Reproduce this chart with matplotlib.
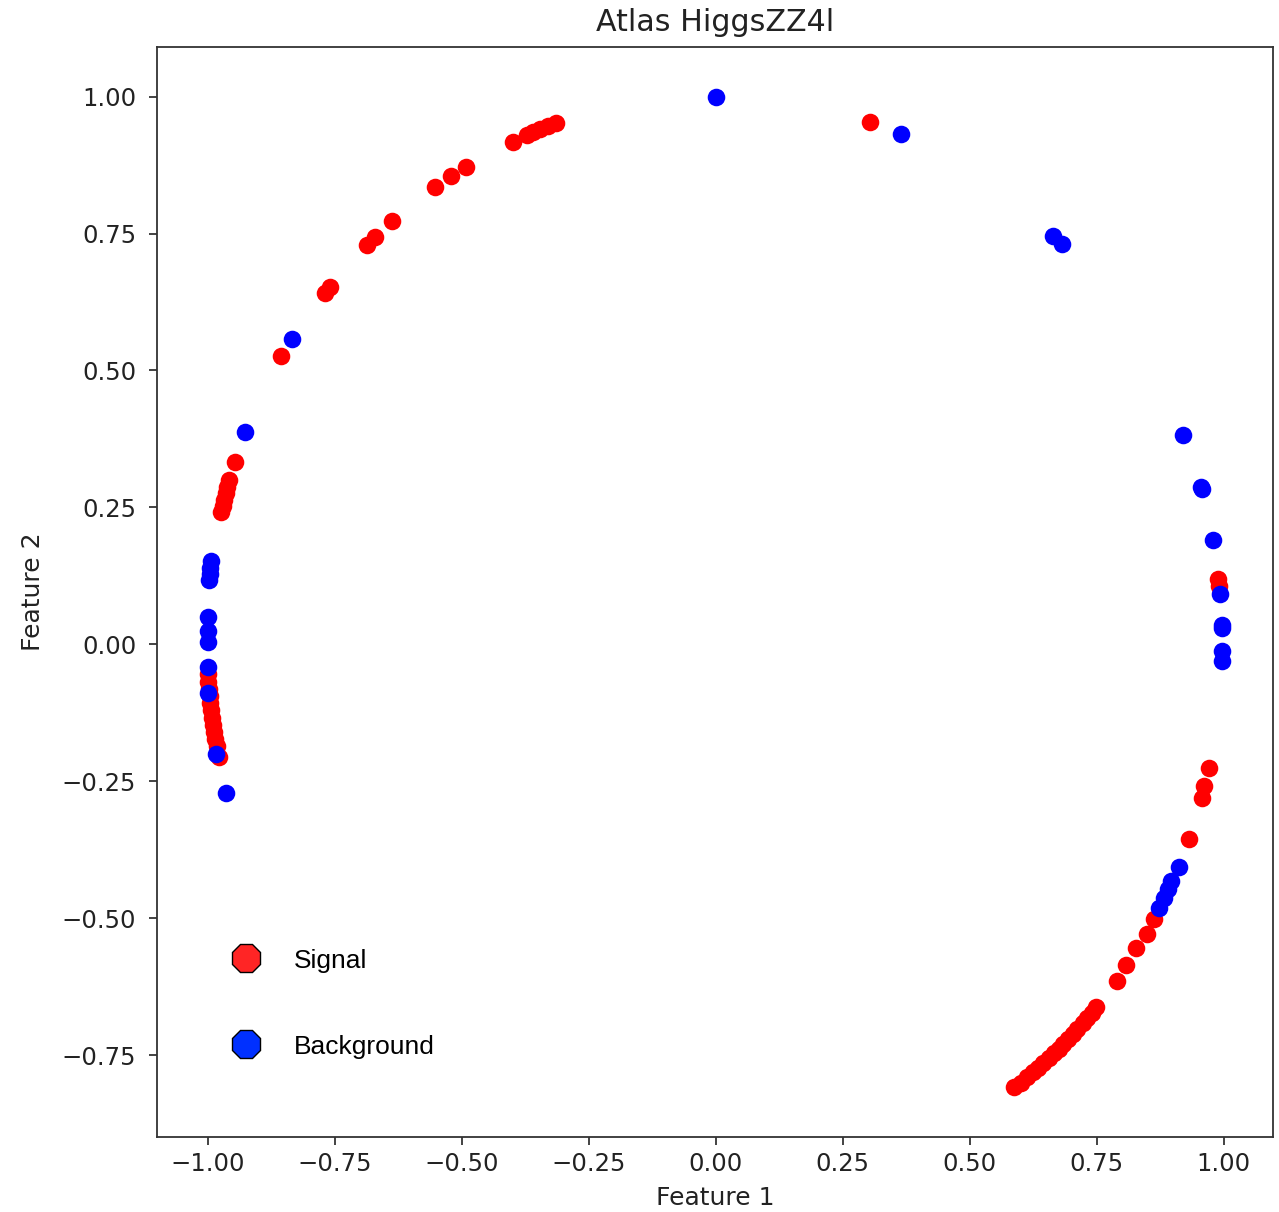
import matplotlib.pyplot as plt
from matplotlib.lines import Line2D

# signal events (feature 1, feature 2)
signal_x = [0.303,
            -0.315, -0.330, -0.346, -0.360, -0.372, -0.399,
            -0.492, -0.521, -0.553, -0.637, -0.671, -0.686,
            -0.759, -0.769, -0.855, -0.946,
            -0.958, -0.962, -0.964, -0.968, -0.970, -0.974,
            -0.999, -0.999, -0.997, -0.996, -0.995, -0.993,
            -0.991, -0.989, -0.987, -0.985, -0.982, -0.978,
            0.989, 0.991,
            0.970, 0.962, 0.958, 0.932,
            0.863, 0.848, 0.828, 0.808, 0.789,
            0.749, 0.740, 0.731, 0.722, 0.712, 0.703, 0.694, 0.684,
            0.675, 0.665, 0.655, 0.645, 0.635, 0.624, 0.613, 0.600, 0.588]
signal_y = [0.954,
            0.952, 0.946, 0.941, 0.935, 0.930, 0.917,
            0.872, 0.855, 0.835, 0.772, 0.743, 0.729,
            0.653, 0.642, 0.526, 0.333,
            0.300, 0.287, 0.277, 0.264, 0.253, 0.241,
            -0.055, -0.068, -0.082, -0.095, -0.107, -0.120,
            -0.135, -0.148, -0.160, -0.172, -0.186, -0.205,
            0.120, 0.107,
            -0.225, -0.258, -0.280, -0.355,
            -0.502, -0.528, -0.555, -0.585, -0.614,
            -0.663, -0.673, -0.682, -0.692, -0.702, -0.711, -0.720, -0.729,
            -0.738, -0.747, -0.756, -0.764, -0.773, -0.781, -0.790, -0.800, -0.809]

# background events
background_x = [0.000, 0.364, 0.663, 0.682, -0.834, -0.926,
                0.920, 0.956, 0.958, 0.979, 0.993, 0.997, 0.997, 0.997, 0.997,
                -0.993, -0.995, -0.996, -0.997, -1.000, -1.000, -1.000, -1.000,
                -0.999, -0.983, -0.964,
                0.912, 0.897, 0.890, 0.882, 0.873]
background_y = [1.000, 0.932, 0.745, 0.731, 0.557, 0.387,
                0.382, 0.287, 0.283, 0.190, 0.091, 0.035, 0.030, -0.013, -0.030,
                0.152, 0.140, 0.128, 0.118, 0.050, 0.025, 0.005, -0.042,
                -0.088, -0.201, -0.272,
                -0.407, -0.432, -0.447, -0.463, -0.482]

fig = plt.figure(figsize=(12.79, 12.12), dpi=100)
ax = fig.add_axes([0.1228, 0.0619, 0.8725, 0.8993])

ax.scatter(signal_x, signal_y, c='red', s=160, linewidths=0)
ax.scatter(background_x, background_y, c='blue', s=160, linewidths=0)

ax.set_xticks([-1.0, -0.75, -0.5, -0.25, 0.0, 0.25, 0.5, 0.75, 1.0])
ax.set_yticks([-0.75, -0.5, -0.25, 0.0, 0.25, 0.5, 0.75, 1.0])
ax.tick_params(length=6, width=1.2, labelsize=17.5, colors='#222222')
ax.tick_params(axis='y', pad=9)
ax.tick_params(axis='x', pad=5)
for sp in ax.spines.values():
    sp.set_linewidth(1.3)
    sp.set_color('#333333')

ax.set_title('Atlas HiggsZZ4l', fontsize=21.7, pad=11.5, color='#222222')
ax.set_xlabel('Feature 1', fontsize=18, labelpad=7, color='#222222')
ax.set_ylabel('Feature 2', fontsize=18, labelpad=12, color='#222222')

handles = [
    Line2D([], [], ls='none', marker='8', markersize=22, markerfacecolor='#ff2525',
           markeredgecolor='black', markeredgewidth=1.0, label='Signal'),
    Line2D([], [], ls='none', marker='8', markersize=22, markerfacecolor='#0030ff',
           markeredgecolor='black', markeredgewidth=1.0, label='Background'),
]
ax.legend(handles=handles, loc='lower left', bbox_to_anchor=(0.035, 0.05),
          frameon=False, labelspacing=2.35, handletextpad=0.8,
          prop={'family': 'Liberation Sans', 'size': 19})

fig.savefig('out.png', dpi=100)
